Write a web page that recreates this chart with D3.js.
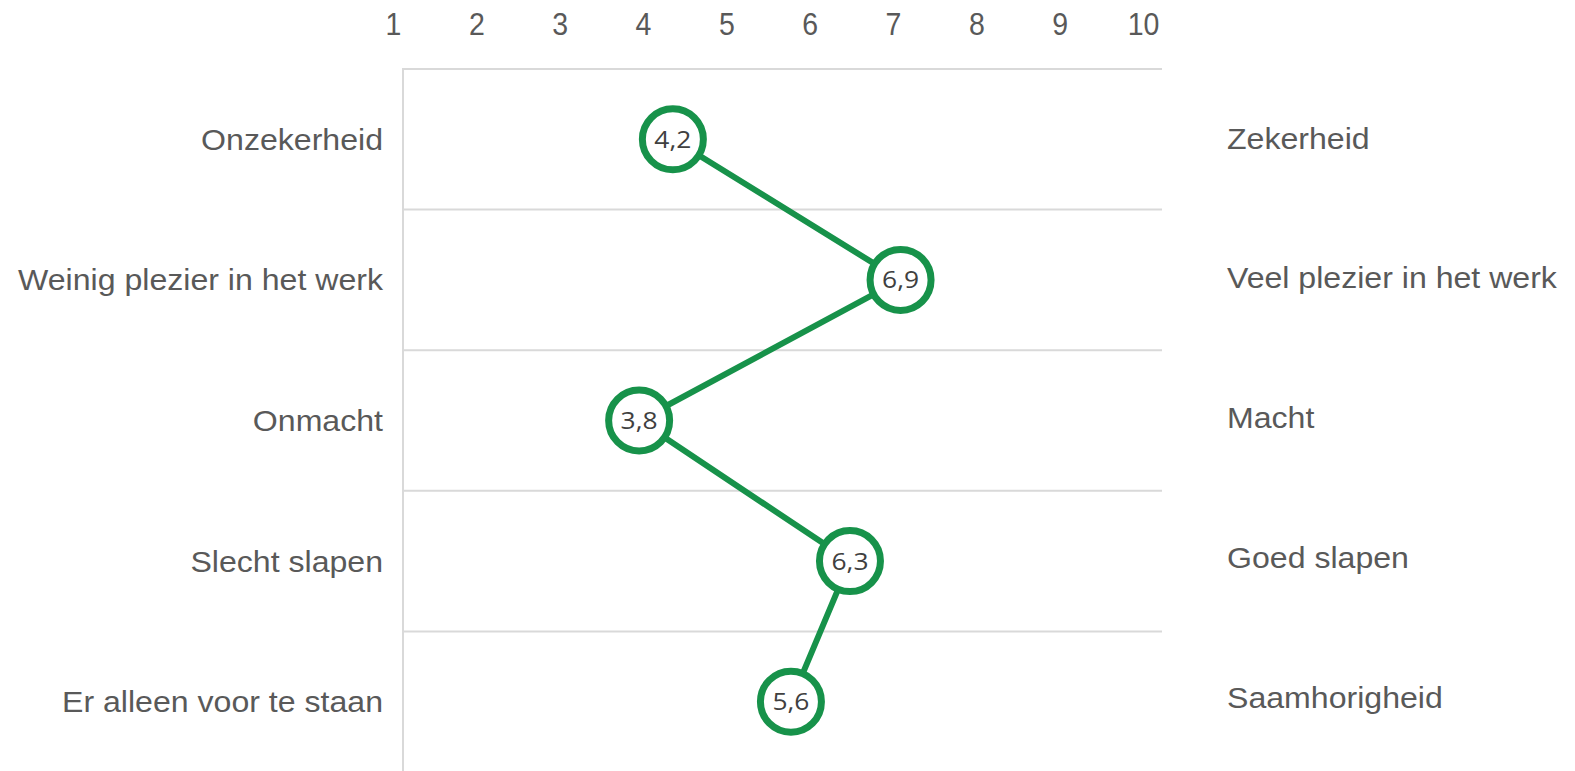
<!DOCTYPE html>
<html>
<head>
<meta charset="utf-8">
<script src="https://cdn.jsdelivr.net/npm/d3@7"></script>
<style>
  html, body { margin: 0; padding: 0; background: #ffffff; }
  svg { display: block; }
</style>
</head>
<body>
<div id="chart"></div>
<script>
// ---- data ----
const leftLabels = ["Onzekerheid", "Weinig plezier in het werk", "Onmacht", "Slecht slapen", "Er alleen voor te staan"];
const rightLabels = ["Zekerheid", "Veel plezier in het werk", "Macht", "Goed slapen", "Saamhorigheid"];
const scores = [4.2, 6.9, 3.8, 6.3, 5.6];
const scoreLabels = ["4,2", "6,9", "3,8", "6,3", "5,6"];
const tickValues = [1, 2, 3, 4, 5, 6, 7, 8, 9, 10];

// ---- layout ----
const W = 1575, H = 771;
const plotLeft = 403, plotRight = 1162, plotTop = 69, plotBottom = 772;
const green = "#17924a";
const textGrey = "#595959";
const gridGrey = "#d9d9d9";

const svg = d3.select("#chart").append("svg")
  .attr("width", W).attr("height", H);

const x = d3.scaleLinear().domain([1, 10]).range([plotLeft, plotRight]);
const tickX = d3.scaleLinear().domain([1, 10]).range([393, 1143]);
const y = d3.scaleBand().domain(leftLabels).range([plotTop, plotBottom]);
const yRight = d3.scalePoint().domain(rightLabels).range([138, 697]);

// gridlines (row separators)
svg.append("g").selectAll("line")
  .data(leftLabels)
  .join("line")
  .attr("x1", plotLeft).attr("x2", plotRight)
  .attr("y1", d => y(d)).attr("y2", d => y(d))
  .attr("stroke", gridGrey).attr("stroke-width", 2);

// left vertical axis line
svg.append("line")
  .attr("x1", plotLeft).attr("x2", plotLeft)
  .attr("y1", plotTop - 1).attr("y2", H)
  .attr("stroke", gridGrey).attr("stroke-width", 2);

// top tick labels
const axis = svg.append("g")
  .attr("transform", "translate(0,35)")
  .call(d3.axisTop(tickX).tickValues(tickValues).tickSize(0).tickPadding(0).tickFormat(d3.format("d")));
axis.select(".domain").remove();
axis.selectAll("text")
  .attr("y", 0).attr("dy", 0)
  .attr("transform", "scale(0.95,1.03)")
  .attr("font-family", "'Liberation Sans', Arial, sans-serif")
  .attr("font-size", 30)
  .attr("fill", textGrey);

const sx = 1.07;
// left labels
svg.append("g").selectAll("text")
  .data(leftLabels)
  .join("text")
  .attr("transform", d => `translate(383,${y(d) + y.bandwidth() / 2 + 10.5}) scale(${sx},1)`)
  .attr("text-anchor", "end")
  .attr("font-family", "'Liberation Sans', Arial, sans-serif")
  .attr("font-size", 30)
  .attr("fill", textGrey)
  .text(d => d);

// right labels
svg.append("g").selectAll("text")
  .data(rightLabels)
  .join("text")
  .attr("transform", d => `translate(1227,${yRight(d) + 10.5}) scale(${sx},1)`)
  .attr("text-anchor", "start")
  .attr("font-family", "'Liberation Sans', Arial, sans-serif")
  .attr("font-size", 30)
  .attr("fill", textGrey)
  .text(d => d);

// line
const pts = scores.map((v, i) => ({ v, label: scoreLabels[i], cat: leftLabels[i] }));
const line = d3.line().x(d => x(d.v)).y(d => y(d.cat) + y.bandwidth() / 2);
svg.append("path")
  .datum(pts)
  .attr("d", line)
  .attr("fill", "none")
  .attr("stroke", green)
  .attr("stroke-width", 6)
  .attr("stroke-linejoin", "round");

// markers
const m = svg.append("g").selectAll("g")
  .data(pts)
  .join("g")
  .attr("transform", d => `translate(${x(d.v)},${y(d.cat) + y.bandwidth() / 2})`);
m.append("circle")
  .attr("r", 30.5)
  .attr("fill", "#ffffff")
  .attr("stroke", green)
  .attr("stroke-width", 7);
m.append("text")
  .attr("transform", "translate(0,8.5) scale(1.1,1)")
  .attr("text-anchor", "middle")
  .attr("font-family", "'Open Sans', sans-serif")
  .attr("font-size", 24)
  .attr("fill", "#404040")
  .text(d => d.label);
</script>
</body>
</html>
